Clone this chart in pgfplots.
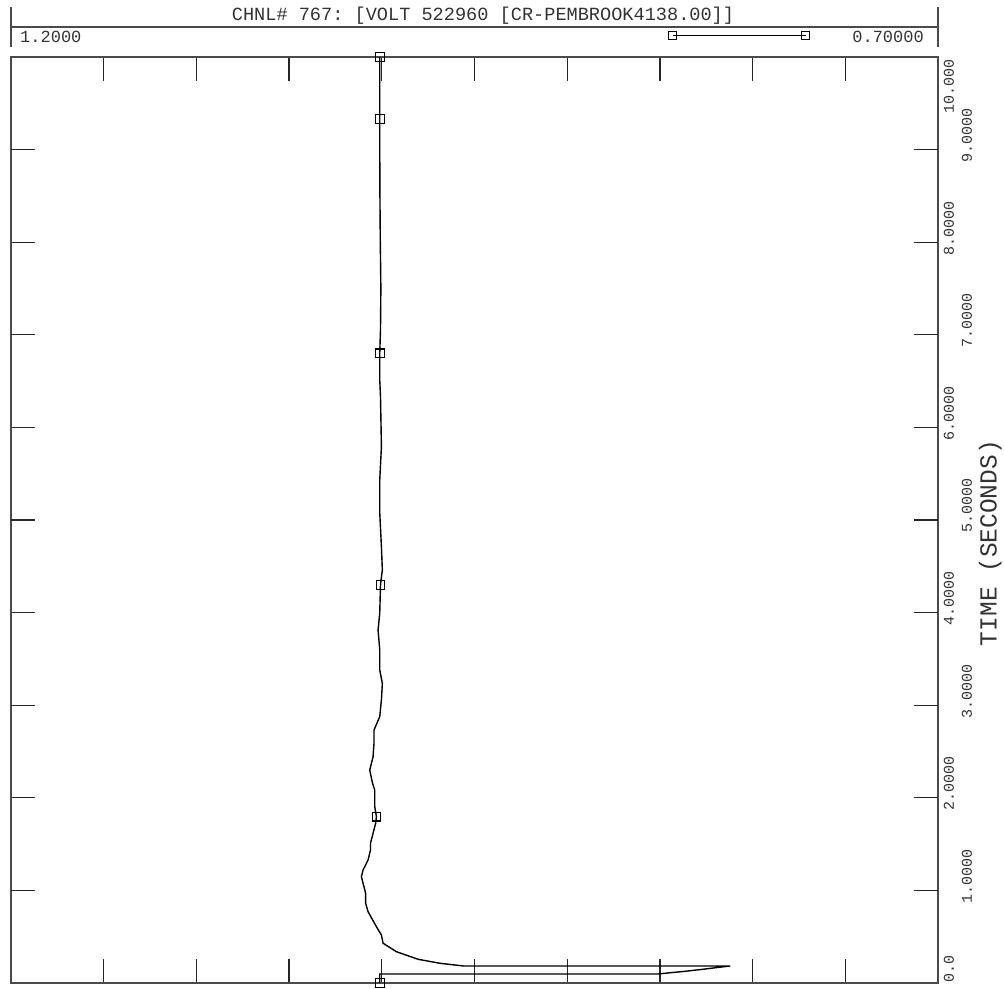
\documentclass[border=0pt]{standalone}
\usepackage{pgfplots}
\pgfplotsset{compat=1.18}
\usepackage{fontspec}
\setmainfont{Liberation Mono}
\definecolor{frame}{HTML}{4A4A4A}
\definecolor{txt}{HTML}{333333}
\frenchspacing
\begin{document}
\begin{tikzpicture}[x=1pt,y=1pt]
\path[use as bounding box] (0,0) rectangle (1004,988);
% header frame
\draw[frame, line width=2pt] (11,981) -- (11,941);
\draw[frame, line width=2pt] (938,981) -- (938,941);
\draw[frame, line width=2pt] (10,961) -- (939,961);
\node[anchor=base, inner sep=0pt, text=txt, font=\fontsize{18.6}{19}\selectfont] at (483,967) {CHNL\# 767: [VOLT 522960 [CR-PEMBROOK4138.00]]};
\node[anchor=base west, inner sep=0pt, text=txt, font=\fontsize{17}{18}\selectfont] at (20,945) {1.2000};
\node[anchor=base east, inner sep=0pt, text=txt, font=\fontsize{17}{18}\selectfont] at (924,945) {0.70000};
\node[text=txt, rotate=90, inner sep=0pt, font=\fontsize{15}{15}\selectfont] at (949,901) {10.000};
\begin{axis}[
  at={(11pt,5pt)}, anchor=south west,
  scale only axis, width=927pt, height=926pt,
  x dir=reverse,
  xmin=0.7, xmax=1.2, ymin=0, ymax=10,
  axis line style={frame, line width=2pt},
  tick align=inside,
  major tick length=24pt,
  xtick pos=both,
  yticklabel pos=right,
  ytick pos=both,
  every tick/.style={black!85, line width=1.3pt},
  xtick={0.75,0.8,0.85,0.9,0.95,1.0,1.05,1.1,1.15},
  xticklabels={},
  ytick={0,2,4,6,8,10},
  yticklabels={0.0,2.0000,4.0000,6.0000,8.0000,},
  extra y ticks={1,3,5,7,9},
  extra y tick labels={1.0000,3.0000,5.0000,7.0000,9.0000},
  extra y tick style={yticklabel style={yshift=-18pt}},
  yticklabel style={text=txt, font=\fontsize{15}{15}\selectfont, anchor=center, xshift=11pt, yshift=14pt, rotate=90, inner sep=0pt},
  ylabel={TIME (SECONDS)},
  ylabel style={at={(axis description cs:1.0565,0.475)}, anchor=center, font=\fontsize{24.5}{25}\selectfont, text=txt, inner sep=0pt},
  clip=false,
  legend style={draw=none, fill=none, inner sep=0pt, at={(axis description cs:0.786,1.0232)}, anchor=center, nodes={inner sep=0pt}},
]
\addplot[black, line width=1.4pt, forget plot] coordinates {
(1.0011,0) (1.0011,0.097) (0.851,0.097) (0.845,0.11) (0.837,0.125) (0.826,0.15)
(0.818,0.17) (0.812,0.184) (0.956,0.184) (0.9687,0.213) (0.9804,0.256) (0.9921,0.338)
(0.9993,0.429) (1.0002,0.518) (1.0029,0.608) (1.0074,0.770) (1.0087,0.861) (1.0087,0.969)
(1.0101,1.077) (1.0110,1.148) (1.0101,1.220) (1.0074,1.328) (1.0061,1.436) (1.0061,1.509)
(1.0047,1.617) (1.0033,1.725) (1.0029,1.796) (1.0038,1.904) (1.0038,2.084) (1.0050,2.157)
(1.0065,2.300) (1.0047,2.444) (1.0042,2.589) (1.0042,2.732) (1.0011,2.876) (1.0002,3.056)
(0.9997,3.236) (1.0011,3.380) (1.0011,3.596) (1.0020,3.812) (1.0011,3.996) (1.0007,4.298)
(0.9997,4.460) (1.0002,4.712) (1.0011,5.076) (1.0011,5.432) (1.0002,5.792) (1.0007,6.332)
(1.0011,6.512) (1.0011,6.800) (1.0007,7.052) (1.0005,7.5) (1.0008,8.0) (1.0010,8.5)
(1.0011,9.0) (1.0011,9.33) (1.0011,10.0)
};
\addplot[only marks, mark=square, mark size=4.3pt, mark options={black, line width=1.1pt}, forget plot] coordinates {
(1.0011,0) (1.0029,1.796) (1.0007,4.298) (1.0011,6.800) (1.0011,9.33) (1.0011,10.0)
};
\addlegendimage{legend image code/.code={
  \draw[black, line width=1.5pt] (0pt,0pt) -- (133pt,0pt);
  \draw[black, line width=1.1pt] (-3.7pt,-3.7pt) rectangle (3.7pt,3.7pt);
  \draw[black, line width=1.1pt] (129.3pt,-3.7pt) rectangle (136.7pt,3.7pt);
}}
\addlegendentry{}
\end{axis}
\end{tikzpicture}
\end{document}
